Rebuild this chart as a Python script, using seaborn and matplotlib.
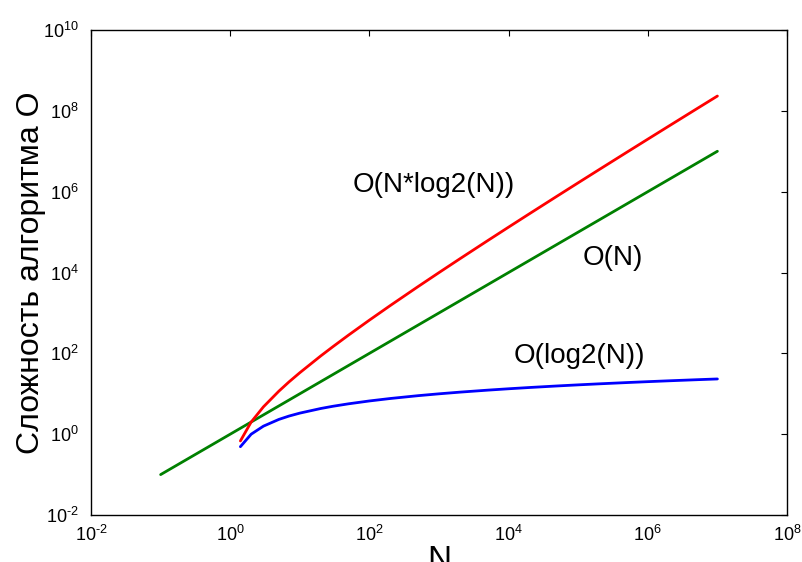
import matplotlib
matplotlib.use("Agg")
import matplotlib.pyplot as plt
import matplotlib.ticker as mticker
import seaborn as sns
import pandas as pd
import numpy as np

# Data (log-log axes)
n_linear = [0.1, 0.2, 0.3, 0.5, 0.7, 1, 2, 3, 5, 7, 10, 20, 30, 50, 100, 200, 500,
            1e3, 2e3, 5e3, 1e4, 2e4, 5e4, 1e5, 2e5, 5e5, 1e6, 2e6, 5e6, 1e7]
o_linear = [0.1, 0.2, 0.3, 0.5, 0.7, 1, 2, 3, 5, 7, 10, 20, 30, 50, 100, 200, 500,
            1e3, 2e3, 5e3, 1e4, 2e4, 5e4, 1e5, 2e5, 5e5, 1e6, 2e6, 5e6, 1e7]

n_log = [1.4, 2, 3, 5, 7, 10, 20, 30, 50, 100, 200, 500, 1e3, 2e3, 5e3,
         1e4, 2e4, 5e4, 1e5, 2e5, 5e5, 1e6, 2e6, 5e6, 1e7]
o_nlogn = [0.68, 2.0, 4.75, 11.6, 19.7, 33.2, 86.4, 147, 282, 664, 1529, 4483,
           9966, 21932, 61439, 132877, 285754, 780482, 1.661e6, 3.522e6,
           9.466e6, 1.993e7, 4.186e7, 1.113e8, 2.325e8]
o_log = [0.49, 1.0, 1.58, 2.32, 2.81, 3.32, 4.32, 4.91, 5.64, 6.64, 7.64, 8.97,
         9.97, 10.97, 12.29, 13.29, 14.29, 15.61, 16.61, 17.61, 18.93, 19.93,
         20.93, 22.25, 23.25]

x_ticks = [1e-2, 1e0, 1e2, 1e4, 1e6, 1e8]
y_ticks = [1e-2, 1e0, 1e2, 1e4, 1e6, 1e8, 1e10]

sns.set_style("white")
plt.rcParams["font.family"] = ["Liberation Sans", "DejaVu Sans"]
plt.rcParams["mathtext.fontset"] = "custom"
plt.rcParams["mathtext.rm"] = "Liberation Sans"
plt.rcParams["mathtext.it"] = "Liberation Sans:italic"
plt.rcParams["mathtext.bf"] = "Liberation Sans:bold"
plt.rcParams["axes.unicode_minus"] = False
plt.rcParams["text.color"] = "black"
plt.rcParams["axes.labelcolor"] = "black"


# MATLAB-like "10^k" labels with a plain hyphen for negative powers
def power_label(v, pos):
    k = int(round(np.log10(v)))
    exp = str(k) if k >= 0 else r"\text{-}" + str(-k)
    return r"$\mathdefault{10^{%s}}$" % exp


fig = plt.figure(figsize=(8.02, 5.62), dpi=100)
ax = fig.add_axes([0.1135, 0.0836, 0.8678, 0.863])

df_lin = pd.DataFrame({"N": n_linear, "O": o_linear})
df_nlogn = pd.DataFrame({"N": n_log, "O": o_nlogn})
df_log = pd.DataFrame({"N": n_log, "O": o_log})

sns.lineplot(data=df_lin, x="N", y="O", color="#008000", lw=2, ax=ax, estimator=None, sort=False)
sns.lineplot(data=df_nlogn, x="N", y="O", color="#ff0000", lw=2, ax=ax, estimator=None, sort=False)
sns.lineplot(data=df_log, x="N", y="O", color="#0000ff", lw=2, ax=ax, estimator=None, sort=False)

ax.set_xscale("log")
ax.set_yscale("log")
ax.set_xlim(1e-2, 1e8)
ax.set_ylim(1e-2, 1e10)
ax.xaxis.set_major_locator(mticker.FixedLocator(x_ticks))
ax.yaxis.set_major_locator(mticker.FixedLocator(y_ticks))
ax.xaxis.set_minor_locator(mticker.NullLocator())
ax.yaxis.set_minor_locator(mticker.NullLocator())
ax.xaxis.set_major_formatter(mticker.FuncFormatter(power_label))
ax.yaxis.set_major_formatter(mticker.FuncFormatter(power_label))

ax.tick_params(axis="both", which="major", direction="in", length=4, width=0.8,
               top=True, right=True, labelsize=13, colors="black")
ax.tick_params(axis="x", pad=7)
ax.tick_params(axis="y", pad=9)
for s in ax.spines.values():
    s.set_color("black")
    s.set_linewidth(1)

ax.set_xlabel("N", fontsize=24)
ax.xaxis.set_label_coords(0.5, -0.062)
ax.set_ylabel("Сложность алгоритма O", fontsize=23)
ax.yaxis.set_label_coords(-0.064, 0.50)

# Curve labels
ax.text(58, 1e6, "O(N*log2(N))", fontsize=20, ha="left", va="baseline")
ax.text(1.17e5, 1.55e4, "O(N)", fontsize=20, ha="left", va="baseline")
ax.text(1.2e4, 58, "O(log2(N))", fontsize=20, ha="left", va="baseline")

fig.savefig("out.png", dpi=100)
